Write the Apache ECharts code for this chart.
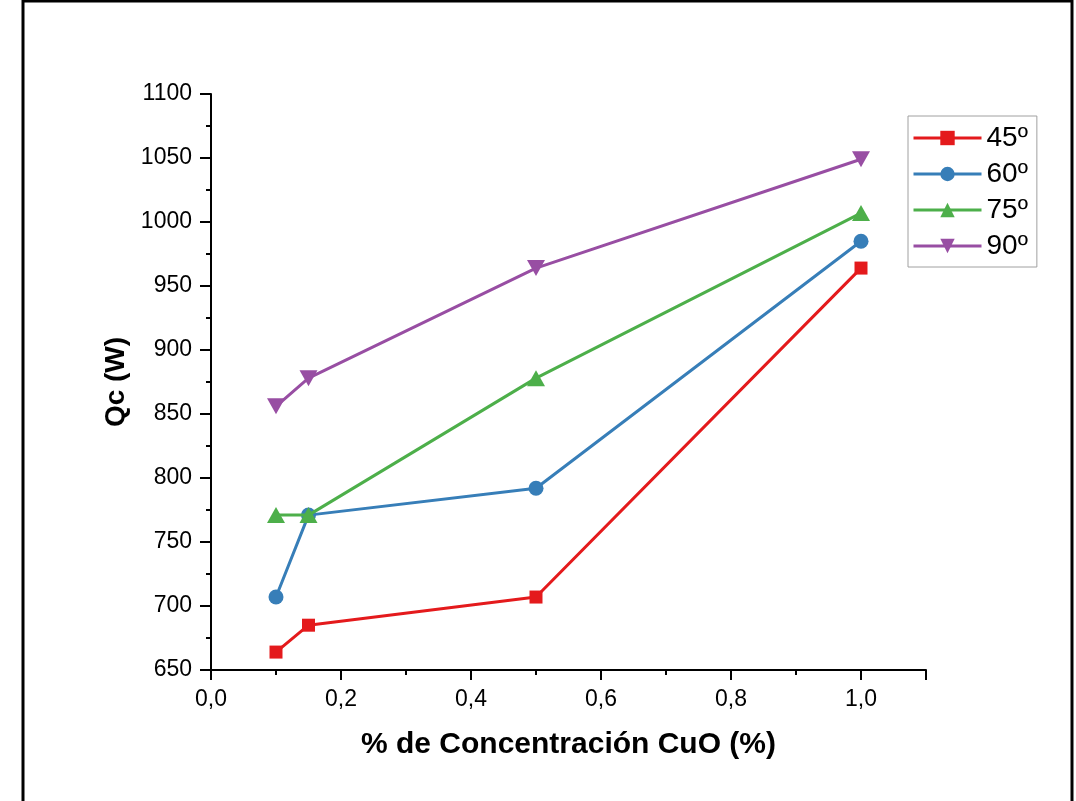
<!DOCTYPE html>
<html>
<head>
<meta charset="utf-8">
<script src="https://cdn.jsdelivr.net/npm/echarts@6/dist/echarts.min.js"></script>
<style>
  html, body { margin: 0; padding: 0; background: #fff; }
  #chart { width: 1076px; height: 801px; }
</style>
</head>
<body>
<div id="chart"></div>
<script>
// CuO concentration (%) on the x axis
const concentration = [0.1, 0.15, 0.5, 1.0];
// Heat rate Qc (W) for each inclination angle
const seriesNames = ['45º', '60º', '75º', '90º'];
const qc45 = [664, 685, 707, 964];
const qc60 = [707, 771, 792, 985];
const qc75 = [771, 771, 878, 1007];
const qc90 = [856, 878, 964, 1049];

const colors = ['#e41a1c', '#377eb8', '#4daf4a', '#984ea3'];
const symbols = ['rect', 'circle', 'triangle', 'path://M0,0 L10,0 L5,9 Z'];
const symbolSizes = [13, 15, [18, 16], [18, 16]];
const values = [qc45, qc60, qc75, qc90];

const font = 'Liberation Sans, Arial, sans-serif';

const chart = echarts.init(document.getElementById('chart'), null, { renderer: 'canvas' });

const series = seriesNames.map((name, i) => ({
  name: name,
  type: 'line',
  data: concentration.map((x, j) => [x, values[i][j]]),
  symbol: symbols[i],
  symbolSize: symbolSizes[i],
  showSymbol: true,
  lineStyle: { color: colors[i], width: 3 },
  itemStyle: { color: colors[i] },
  z: 2 + i
}));

chart.setOption({
  animation: false,
  backgroundColor: '#fff',
  graphic: [{
    type: 'rect',
    shape: { x: 23, y: 1, width: 1049, height: 900 },
    style: { fill: 'none', stroke: '#000', lineWidth: 3 },
    silent: true
  }],
  grid: { left: 211, right: 150, top: 94, bottom: 131, containLabel: false },
  legend: {
    orient: 'vertical',
    left: 908,
    top: 116,
    data: seriesNames,
    itemWidth: 68,
    itemHeight: 18,
    itemGap: 8,
    padding: [8, 9, 7, 4],
    borderColor: '#a0a0a0',
    borderWidth: 1,
    lineStyle: { width: 3 },
    textStyle: { fontFamily: font, fontSize: 28, color: '#000' }
  },
  xAxis: {
    type: 'value',
    min: 0,
    max: 1.1,
    interval: 0.2,
    name: '% de Concentración CuO (%)',
    nameLocation: 'middle',
    nameGap: 60,
    nameTextStyle: { fontFamily: font, fontSize: 30, fontWeight: 'bold', color: '#000' },
    axisLine: { onZero: false, lineStyle: { color: '#000', width: 2 } },
    axisTick: { show: true, inside: false, length: 10, lineStyle: { color: '#000', width: 2 } },
    minorTick: { show: true, splitNumber: 2, length: 5, lineStyle: { color: '#000', width: 2 } },
    splitLine: { show: false },
    axisLabel: {
      fontFamily: font, fontSize: 23, color: '#000', margin: 18,
      formatter: v => v > 1.05 ? '' : v.toFixed(1).replace('.', ',')
    }
  },
  yAxis: {
    type: 'value',
    min: 650,
    max: 1100,
    interval: 50,
    name: 'Qc (W)',
    nameLocation: 'middle',
    nameGap: 80,
    nameTextStyle: { fontFamily: font, fontSize: 28, fontWeight: 'bold', color: '#000' },
    axisLine: { show: true, onZero: false, lineStyle: { color: '#000', width: 2 } },
    axisTick: { show: true, inside: false, length: 11, lineStyle: { color: '#000', width: 2 } },
    minorTick: { show: true, splitNumber: 2, length: 5, lineStyle: { color: '#000', width: 2 } },
    splitLine: { show: false },
    axisLabel: {
      fontFamily: font, fontSize: 23, color: '#000', margin: 19,
      formatter: v => String(v)
    }
  },
  series: series
});
</script>
</body>
</html>
